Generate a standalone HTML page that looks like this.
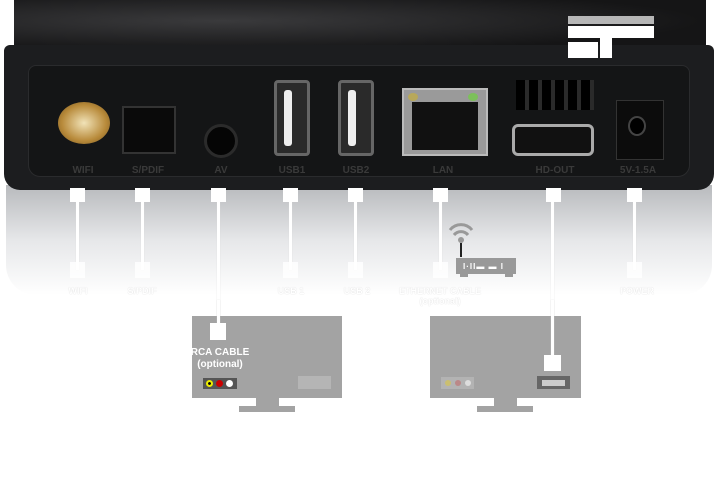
<!DOCTYPE html>
<html><head><style>
*{margin:0;padding:0;box-sizing:border-box}
body{width:720px;height:500px;background:#fff;position:relative;overflow:hidden;font-family:"Liberation Sans",sans-serif}
.a{position:absolute}
.ln{position:absolute;width:3px;background:#fff;box-shadow:0 0 1px #d8d8d8}
.cb{position:absolute;width:15px;background:#fff}
.lbl{position:absolute;color:#fff;font-size:9px;font-weight:bold;text-align:center;width:100px;margin-left:-50px;text-shadow:0 0 1px #ccc}
.dl{position:absolute;color:#3a3a3a;font-size:10px;font-weight:bold;text-align:center;width:60px;margin-left:-30px;top:165px}
</style></head><body>
<!-- reflection -->
<div class="a" style="left:6px;top:185px;width:706px;height:110px;background:linear-gradient(#b8babd,#e6e7e9 50%,#fff);border-radius:0 0 30px 30px"></div>
<!-- top face -->
<div class="a" style="left:14px;top:0;width:692px;height:52px;background:radial-gradient(ellipse at 30% 40%,#3a3a3c,#151516 70%);"></div>
<!-- front body -->
<div class="a" style="left:4px;top:45px;width:710px;height:145px;background:#1c1d1f;border-radius:6px 6px 16px 16px"></div>
<div class="a" style="left:28px;top:65px;width:662px;height:112px;background:#141516;border-radius:8px 8px 12px 12px;border:1px solid #2a2b2d"></div>
<!-- logo -->
<div class="a" style="left:568px;top:16px;width:86px;height:8px;background:#ddd;opacity:.8"></div>
<div class="a" style="left:568px;top:26px;width:86px;height:12px;background:#fff"></div>
<div class="a" style="left:600px;top:26px;width:12px;height:32px;background:#fff"></div>
<div class="a" style="left:568px;top:42px;width:30px;height:16px;background:#fff"></div>
<!-- ports -->
<div class="a" style="left:58px;top:102px;width:52px;height:42px;border-radius:50%;background:radial-gradient(#f1e3b8,#b88a3a 60%,#6e4f1c)"></div>
<div class="a" style="left:122px;top:106px;width:54px;height:48px;background:#0a0a0a;border:2px solid #333"></div>
<div class="a" style="left:204px;top:124px;width:34px;height:34px;border-radius:50%;background:#050505;border:3px solid #2b2b2b"></div>
<div class="a" style="left:274px;top:80px;width:36px;height:76px;background:#2a2a2a;border:3px solid #666;border-radius:4px"></div>
<div class="a" style="left:284px;top:90px;width:8px;height:56px;background:#eee;border-radius:3px"></div>
<div class="a" style="left:338px;top:80px;width:36px;height:76px;background:#2a2a2a;border:3px solid #666;border-radius:4px"></div>
<div class="a" style="left:348px;top:90px;width:8px;height:56px;background:#eee;border-radius:3px"></div>
<div class="a" style="left:402px;top:88px;width:86px;height:68px;background:#9a9a9a;border:2px solid #bbb"></div>
<div class="a" style="left:412px;top:102px;width:66px;height:48px;background:#111"></div>
<div class="a" style="left:408px;top:93px;width:10px;height:8px;background:#b8a85a;border-radius:50%"></div>
<div class="a" style="left:468px;top:93px;width:10px;height:8px;background:#7cc05a;border-radius:50%"></div>
<div class="a" style="left:516px;top:80px;width:78px;height:30px;background:repeating-linear-gradient(90deg,#000 0 9px,#2a2a2a 9px 13px)"></div>
<div class="a" style="left:512px;top:124px;width:82px;height:32px;background:#111;border:3px solid #aaa;border-radius:6px"></div>
<div class="a" style="left:616px;top:100px;width:48px;height:60px;background:#0c0c0c;border:1px solid #333"></div>
<div class="a" style="left:628px;top:116px;width:18px;height:20px;border-radius:50%;background:#000;border:2px solid #444"></div>
<div class="dl" style="left:83px">WIFI</div>
<div class="dl" style="left:148px">S/PDIF</div>
<div class="dl" style="left:221px">AV</div>
<div class="dl" style="left:292px">USB1</div>
<div class="dl" style="left:356px">USB2</div>
<div class="dl" style="left:443px">LAN</div>
<div class="dl" style="left:555px">HD-OUT</div>
<div class="dl" style="left:638px">5V-1.5A</div>
<!-- cables -->
<div class="ln" style="left:76px;top:190px;height:80px"></div><div class="cb" style="left:70px;top:188px;height:14px"></div><div class="cb" style="left:70px;top:262px;height:16px;opacity:.8"></div>
<div class="ln" style="left:141px;top:190px;height:80px"></div><div class="cb" style="left:135px;top:188px;height:14px"></div><div class="cb" style="left:135px;top:262px;height:16px;opacity:.8"></div>
<div class="ln" style="left:217px;top:190px;height:140px"></div><div class="cb" style="left:211px;top:188px;height:14px"></div>
<div class="ln" style="left:289px;top:190px;height:80px"></div><div class="cb" style="left:283px;top:188px;height:14px"></div><div class="cb" style="left:283px;top:262px;height:16px;opacity:.8"></div>
<div class="ln" style="left:354px;top:190px;height:80px"></div><div class="cb" style="left:348px;top:188px;height:14px"></div><div class="cb" style="left:348px;top:262px;height:16px;opacity:.8"></div>
<div class="ln" style="left:439px;top:190px;height:80px"></div><div class="cb" style="left:433px;top:188px;height:14px"></div><div class="cb" style="left:433px;top:262px;height:16px;opacity:.8"></div>
<div class="ln" style="left:551px;top:190px;height:170px"></div><div class="cb" style="left:546px;top:188px;height:14px"></div>
<div class="ln" style="left:633px;top:190px;height:80px"></div><div class="cb" style="left:627px;top:188px;height:14px"></div><div class="cb" style="left:627px;top:262px;height:16px;opacity:.8"></div>
<div class="lbl" style="left:78px;top:286px">WIFI</div>
<div class="lbl" style="left:142px;top:286px">S/PDIF</div>
<div class="lbl" style="left:291px;top:286px">USB 1</div>
<div class="lbl" style="left:357px;top:286px">USB 2</div>
<div class="lbl" style="left:440px;top:286px">ETHERNET CABLE<br>(optional)</div>
<div class="lbl" style="left:637px;top:286px">POWER</div>
<!-- router -->
<svg class="a" style="left:446px;top:220px" width="30" height="40"><path d="M4 10 A14 14 0 0 1 26 10" stroke="#999" stroke-width="3" fill="none"/><path d="M8 15 A9 9 0 0 1 22 15" stroke="#999" stroke-width="3" fill="none"/><circle cx="15" cy="20" r="3" fill="#999"/><rect x="14" y="23" width="2" height="14" fill="#222"/></svg>
<div class="a" style="left:456px;top:258px;width:60px;height:16px;background:#999"></div>
<div class="a" style="left:460px;top:274px;width:8px;height:3px;background:#999"></div>
<div class="a" style="left:505px;top:274px;width:8px;height:3px;background:#999"></div>
<div class="a" style="left:463px;top:262px;color:#fff;font-size:8px;font-weight:bold;letter-spacing:1px">I·II▬ ▬ I</div>
<!-- left TV -->
<div class="a" style="left:192px;top:316px;width:150px;height:82px;background:#a3a3a3"></div>
<div class="a" style="left:256px;top:398px;width:23px;height:9px;background:#a3a3a3"></div>
<div class="a" style="left:239px;top:406px;width:56px;height:6px;background:#a3a3a3"></div>
<div class="ln" style="left:217px;top:300px;height:26px"></div>
<div class="a" style="left:210px;top:323px;width:16px;height:17px;background:#fff"></div>
<div class="a" style="left:190px;top:347px;width:60px;color:#fff;font-size:10px;font-weight:bold;text-align:center;line-height:12px">RCA CABLE<br>(optional)</div>
<div class="a" style="left:203px;top:378px;width:34px;height:11px;background:#555"></div>
<div class="a" style="left:206px;top:380px;width:7px;height:7px;border-radius:50%;background:#ee0;border:2px solid #ee0;box-shadow:inset 0 0 0 2px #000"></div>
<div class="a" style="left:216px;top:380px;width:7px;height:7px;border-radius:50%;background:#c00"></div>
<div class="a" style="left:226px;top:380px;width:7px;height:7px;border-radius:50%;background:#fff"></div>
<div class="a" style="left:298px;top:376px;width:33px;height:13px;background:#b5b5b5"></div>
<!-- right TV -->
<div class="a" style="left:430px;top:316px;width:151px;height:82px;background:#a3a3a3"></div>
<div class="a" style="left:494px;top:398px;width:23px;height:9px;background:#a3a3a3"></div>
<div class="a" style="left:477px;top:406px;width:56px;height:6px;background:#a3a3a3"></div>
<div class="ln" style="left:551px;top:300px;height:56px"></div>
<div class="a" style="left:544px;top:355px;width:17px;height:16px;background:#fff"></div>
<div class="a" style="left:441px;top:377px;width:33px;height:12px;background:#b3b3b3"></div>
<div class="a" style="left:445px;top:380px;width:6px;height:6px;border-radius:50%;background:#cbbf70"></div>
<div class="a" style="left:455px;top:380px;width:6px;height:6px;border-radius:50%;background:#b88"></div>
<div class="a" style="left:465px;top:380px;width:6px;height:6px;border-radius:50%;background:#ddd"></div>
<div class="a" style="left:537px;top:376px;width:33px;height:13px;background:#666"></div>
<div class="a" style="left:542px;top:380px;width:23px;height:6px;background:#ccc"></div>
</body></html>
